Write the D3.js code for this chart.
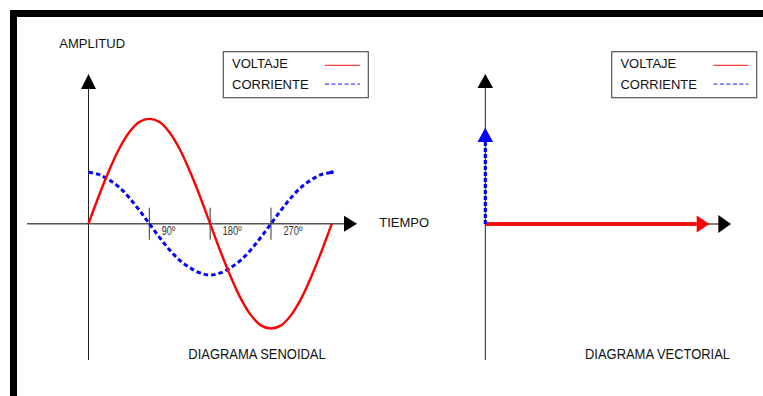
<!DOCTYPE html>
<html lang="es">
<head>
    <meta charset="UTF-8">
    <title>diagrama senoidal y vectorial</title>
    <script src="https://cdn.jsdelivr.net/npm/d3@7"></script>
    <style>
        body { margin: 0; background: #fff; }
        text { font-family: "Liberation Sans", Arial, sans-serif; fill: #111; }
    </style>
</head>
<body>
    <svg width="763" height="396" id="mainsvg"></svg>

    <script>
        // datos (grados y amplitud relativa)
        const angulos = [0, 15, 30, 45, 60, 75, 90, 105, 120, 135, 150, 165, 180,
                         195, 210, 225, 240, 255, 270, 285, 300, 315, 330, 345, 360];
        const voltaje = [0, 0.26, 0.5, 0.71, 0.87, 0.97, 1, 0.97, 0.87, 0.71, 0.5, 0.26, 0,
                         -0.26, -0.5, -0.71, -0.87, -0.97, -1, -0.97, -0.87, -0.71, -0.5, -0.26, 0];
        const corriente = [0.49, 0.47, 0.42, 0.35, 0.25, 0.13, 0, -0.13, -0.25, -0.35, -0.42, -0.47, -0.49,
                           -0.47, -0.42, -0.35, -0.25, -0.13, 0, 0.13, 0.25, 0.35, 0.42, 0.47, 0.49];
        const ticksGrados = [90, 180, 270];
        const ticksTexto = ['90º', '180º', '270º'];
        const leyenda = ['VOLTAJE', 'CORRIENTE'];
        // vectores: modulo relativo y angulo en grados
        const vectorNombres = ['VOLTAJE', 'CORRIENTE'];
        const vectorModulo = [1, 0.43];
        const vectorAngulo = [0, 90];

        const svg = d3.select('svg');
        const colores = {VOLTAJE: '#ff0000', CORRIENTE: '#0000ff'};

        // marco negro
        svg.append('rect').attr('x', 10).attr('y', 10).attr('width', 760).attr('height', 7).attr('fill', '#000');
        svg.append('rect').attr('x', 10).attr('y', 10).attr('width', 7).attr('height', 390).attr('fill', '#000');

        // punta de flecha: (x,y) es la punta, ang en grados (0 = derecha, 90 = arriba)
        const flecha = function(g, x, y, ang, largo, ancho, color){
            g.append('path')
            .attr('d', `M0,0 L${-largo},${-ancho/2} L${-largo},${ancho/2} Z`)
            .attr('transform', `translate(${x},${y}) rotate(${-ang})`)
            .attr('fill', color);
        };

        // texto estrecho (tipo Arial Narrow) con ancho fijo
        const estrecho = function(sel, ancho){
            sel.attr('textLength', ancho).attr('lengthAdjust', 'spacingAndGlyphs');
        };

        const dibujaLeyenda = function(x0, y0){
            const g = svg.append('g').attr('transform', `translate(${x0},${y0})`);
            g.append('rect').attr('width', 145).attr('height', 46)
            .attr('fill', '#fff').attr('stroke', '#555').attr('stroke-width', 1.2);
            leyenda.forEach((nombre, i) => {
                g.append('text').text(nombre)
                .attr('x', 8.7).attr('y', 16.3 + i * 20.7)
                .attr('font-size', '13px');
                g.append('line')
                .attr('x1', 101.7).attr('x2', 136.7)
                .attr('y1', 13.6 + i * 18.8).attr('y2', 13.6 + i * 18.8)
                .attr('stroke', colores[nombre])
                .attr('stroke-opacity', 0.75)
                .attr('stroke-width', 1.3)
                .attr('stroke-dasharray', nombre === 'CORRIENTE' ? '4,2.5' : null);
            });
        };

        // ---------------- diagrama senoidal ----------------
        const xScale = d3.scaleLinear().domain([0, 360]).range([88.5, 331.8]);
        const yScale = d3.scaleLinear().domain([-1, 1]).range([328.5, 118.9]);
        const y0 = yScale(0);
        const sen = svg.append('g');

        // eje vertical
        sen.append('line').attr('x1', xScale(0)).attr('x2', xScale(0))
        .attr('y1', 360).attr('y2', 88).attr('stroke', '#222').attr('stroke-width', 1);
        flecha(sen, xScale(0), 74, 90, 15, 15, '#000');

        // eje horizontal
        sen.append('line').attr('x1', 27).attr('x2', 345)
        .attr('y1', y0).attr('y2', y0).attr('stroke', '#555').attr('stroke-width', 1.6);
        flecha(sen, 357, y0, 0, 13, 16, '#000');

        // marcas de grados
        sen.selectAll('.tick').data(ticksGrados).enter().append('line')
        .attr('class', 'tick')
        .attr('x1', d => xScale(d)).attr('x2', d => xScale(d))
        .attr('y1', y0 - 16).attr('y2', y0 + 16)
        .attr('stroke', '#333').attr('stroke-width', 1);

        sen.selectAll('.ticktext').data(ticksGrados).enter().append('text')
        .attr('class', 'ticktext')
        .attr('x', d => xScale(d) + 12.4)
        .attr('y', y0 + 10.8)
        .attr('font-size', '12px')
        .style('fill', '#333')
        .text((d, i) => ticksTexto[i])
        .attr('textLength', (d, i) => ticksTexto[i].length === 3 ? 13.5 : 19)
        .attr('lengthAdjust', 'spacingAndGlyphs');

        const linea = serie => d3.line()
            .x((d, i) => xScale(angulos[i]))
            .y(d => yScale(d))
            .curve(d3.curveCatmullRom)(serie);

        sen.append('path').attr('d', linea(corriente))
        .attr('fill', 'none').attr('stroke', colores.CORRIENTE)
        .attr('stroke-width', 3).attr('stroke-dasharray', '4.5,3');
        sen.append('circle').attr('cx', xScale(360)).attr('cy', yScale(corriente[corriente.length - 1]))
        .attr('r', 2).attr('fill', colores.CORRIENTE);

        sen.append('path').attr('d', linea(voltaje))
        .attr('fill', 'none').attr('stroke', colores.VOLTAJE)
        .attr('stroke-width', 2.4);

        svg.append('text').text('AMPLITUD').attr('x', 59.3).attr('y', 48).attr('font-size', '13px');
        svg.append('text').text('TIEMPO').attr('x', 379.3).attr('y', 227.4).attr('font-size', '13px');
        svg.append('text').text('DIAGRAMA SENOIDAL').attr('x', 188.3).attr('y', 359)
        .attr('font-size', '14px').call(estrecho, 137.4);

        dibujaLeyenda(223.3, 51.7);

        // ---------------- diagrama vectorial ----------------
        const cx = 485.3, cy = 224;
        const rScale = d3.scaleLinear().domain([0, 1]).range([0, 224]);
        const vec = svg.append('g');

        vec.append('line').attr('x1', cx).attr('x2', cx)
        .attr('y1', 360).attr('y2', 87).attr('stroke', '#222').attr('stroke-width', 1);
        flecha(vec, cx, 74, 90, 14, 15.6, '#000');

        vec.append('line').attr('x1', cx).attr('x2', 719)
        .attr('y1', cy).attr('y2', cy).attr('stroke', '#555').attr('stroke-width', 1.6);
        flecha(vec, 731, cy, 0, 12.7, 18, '#000');

        vectorNombres.forEach((nombre, i) => {
            const a = vectorAngulo[i] * Math.PI / 180;
            const r = rScale(vectorModulo[i]);
            const largo = nombre === 'VOLTAJE' ? 12.6 : 14.3;
            const xt = cx + r * Math.cos(a), yt = cy - r * Math.sin(a);
            const xb = cx + (r - largo) * Math.cos(a), yb = cy - (r - largo) * Math.sin(a);
            vec.append('line')
            .attr('x1', cx).attr('y1', cy).attr('x2', xb).attr('y2', yb)
            .attr('stroke', colores[nombre])
            .attr('stroke-width', nombre === 'VOLTAJE' ? 4 : 3.2)
            .attr('stroke-opacity', nombre === 'VOLTAJE' ? 0.9 : 1)
            .attr('stroke-dasharray', nombre === 'CORRIENTE' ? '4,2' : null);
            flecha(vec, xt, yt, vectorAngulo[i], largo, nombre === 'VOLTAJE' ? 17 : 15.6, colores[nombre]);
        });

        svg.append('text').text('DIAGRAMA VECTORIAL').attr('x', 585).attr('y', 359)
        .attr('font-size', '14px').call(estrecho, 145);

        dibujaLeyenda(611.7, 51.7);
    </script>
</body>
</html>
